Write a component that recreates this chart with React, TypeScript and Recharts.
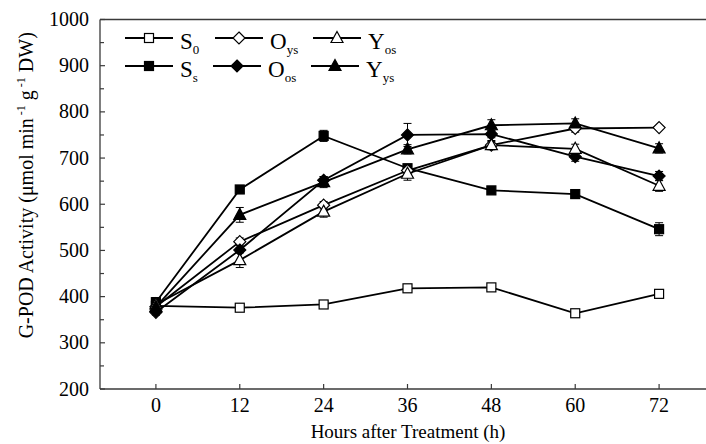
import React from 'react';
import { LineChart, Line, XAxis, YAxis, ErrorBar, ReferenceLine } from 'recharts';

// hours after treatment
const hours = [0, 12, 24, 36, 48, 60, 72];

// G-POD activity per treatment
const s0 = [380, 376, 383, 418, 420, 364, 406];
const s0Err = [8, 5, 4, 4, 4, 4, 6];
const ss = [388, 632, 748, 678, 630, 622, 546];
const ssErr = [10, 6, 12, 8, 5, 5, 14];
const oys = [378, 519, 598, 673, 728, 764, 766];
const oysErr = [6, 8, 8, 10, 8, 8, 4];
const oos = [366, 501, 652, 750, 752, 703, 661];
const oosErr = [6, 6, 8, 25, 8, 10, 10];
const yos = [383, 479, 584, 666, 728, 720, 640];
const yosErr = [8, 16, 12, 14, 10, 10, 12];
const yys = [378, 577, 648, 719, 771, 775, 721];
const yysErr = [8, 16, 12, 10, 12, 10, 10];

const xTicks = [0, 12, 24, 36, 48, 60, 72];
const yTicks = [200, 250, 300, 350, 400, 450, 500, 550, 600, 650, 700, 750, 800, 850, 900, 950, 1000];
const yLabels = [200, 300, 400, 500, 600, 700, 800, 900, 1000];

const FONT = '"Liberation Serif", "Times New Roman", serif';
const INK = '#000';
const AXIS = '#3a3a3a';

type Shape = 'square' | 'diamond' | 'triangle';

const series = [
  { key: 's0', name: 'S', sub: '0', shape: 'square' as Shape, filled: false, values: s0, errs: s0Err },
  { key: 'ss', name: 'S', sub: 's', shape: 'square' as Shape, filled: true, values: ss, errs: ssErr },
  { key: 'oys', name: 'O', sub: 'ys', shape: 'diamond' as Shape, filled: false, values: oys, errs: oysErr },
  { key: 'oos', name: 'O', sub: 'os', shape: 'diamond' as Shape, filled: true, values: oos, errs: oosErr },
  { key: 'yos', name: 'Y', sub: 'os', shape: 'triangle' as Shape, filled: false, values: yos, errs: yosErr },
  { key: 'yys', name: 'Y', sub: 'ys', shape: 'triangle' as Shape, filled: true, values: yys, errs: yysErr },
];

const rows = hours.map((h, i) => {
  const row: Record<string, number> = { h };
  series.forEach(s => {
    row[s.key] = s.values[i];
    row[s.key + 'Err'] = s.errs[i];
  });
  return row;
});

function Marker({ cx, cy, shape, filled }: { cx: number; cy: number; shape: Shape; filled: boolean }) {
  const fill = filled ? INK : '#fff';
  if (shape === 'square') {
    return <rect x={cx - 4.5} y={cy - 4.5} width={9} height={9} fill={fill} stroke={INK} strokeWidth={1.2} />;
  }
  if (shape === 'diamond') {
    const r = 6;
    return (
      <polygon
        points={`${cx},${cy - r} ${cx + r},${cy} ${cx},${cy + r} ${cx - r},${cy}`}
        fill={fill}
        stroke={INK}
        strokeWidth={1.2}
      />
    );
  }
  return (
    <polygon
      points={`${cx},${cy - 6.5} ${cx + 6},${cy + 4.5} ${cx - 6},${cy + 4.5}`}
      fill={fill}
      stroke={INK}
      strokeWidth={1.2}
    />
  );
}

const XTick = (props: any) => {
  const { x, y, payload } = props;
  return (
    <g>
      <line x1={x} y1={y} x2={x} y2={y - 5} stroke={AXIS} strokeWidth={1.2} />
      <text x={x} y={y + 23} textAnchor="middle" fontSize={20} fontFamily={FONT} fill={INK}>
        {payload.value}
      </text>
    </g>
  );
};

const YTick = (props: any) => {
  const { x, y, payload } = props;
  const major = yLabels.includes(payload.value);
  return (
    <g>
      <line x1={x} y1={y} x2={x + (major ? 5 : 4)} y2={y} stroke={AXIS} strokeWidth={1.2} />
      {major && (
        <text x={x - 11} y={y + 6.5} textAnchor="end" fontSize={20} fontFamily={FONT} fill={INK}>
          {payload.value}
        </text>
      )}
    </g>
  );
};

const XTitle = (props: any) => {
  const { viewBox } = props;
  return (
    <text
      x={viewBox.x + 308}
      y={viewBox.y + 49}
      textAnchor="middle"
      fontSize={19}
      fontFamily={FONT}
      fill={INK}
    >
      Hours after Treatment (h)
    </text>
  );
};

const YTitle = (props: any) => {
  const { viewBox } = props;
  const cx = viewBox.x + viewBox.width - 67;
  const cy = viewBox.y + viewBox.height / 2 - 19;
  return (
    <text
      x={cx}
      y={cy}
      transform={`rotate(-90, ${cx}, ${cy})`}
      textAnchor="middle"
      fontSize={20}
      fontFamily={FONT}
      fill={INK}
    >
      G-POD Activity (μmol min
      <tspan dy={-8} fontSize={12}> -1</tspan>
      <tspan dy={8}> g</tspan>
      <tspan dy={-8} fontSize={12}> -1</tspan>
      <tspan dy={8}> DW)</tspan>
    </text>
  );
};

const legendRows = [
  { y: 38, items: [{ k: 's0', x: 125 }, { k: 'oys', x: 215 }, { k: 'yos', x: 313 }] },
  { y: 66, items: [{ k: 'ss', x: 125 }, { k: 'oos', x: 213 }, { k: 'yys', x: 311 }] },
];

function LegendOverlay() {
  return (
    <svg width={706} height={100} style={{ position: 'absolute', left: 0, top: 0, pointerEvents: 'none' }}>
      {legendRows.map((row, ri) =>
        row.items.map(item => {
          const s = series.find(d => d.key === item.k)!;
          return (
            <g key={ri + item.k}>
              <line x1={item.x} y1={row.y} x2={item.x + 48} y2={row.y} stroke={INK} strokeWidth={1.8} />
              <Marker cx={item.x + 24} cy={row.y} shape={s.shape} filled={s.filled} />
              <text x={item.x + 55} y={row.y + 11} fontSize={23} fontFamily={FONT} fill={INK}>
                {s.name}
                <tspan dy={5} fontSize={13}>{s.sub}</tspan>
              </text>
            </g>
          );
        })
      )}
    </svg>
  );
}

export default function App() {
  return (
    <div style={{ position: 'absolute', left: 0, top: 0, width: 706, height: 444, overflow: 'hidden', background: '#fff' }}>
      <LineChart width={720} height={444} data={rows} margin={{ top: 19.5, right: 5, left: 99, bottom: 54 }}>
        <XAxis
          dataKey="h"
          type="number"
          domain={[-8, 80]}
          ticks={xTicks}
          interval={0}
          height={1}
          tickSize={0}
          tickMargin={0}
          tickLine={false}
          tick={<XTick />}
          axisLine={{ stroke: AXIS, strokeWidth: 1.3 }}
          allowDataOverflow
          label={{ content: <XTitle /> }}
        />
        <YAxis
          type="number"
          domain={[200, 1000]}
          ticks={yTicks}
          interval={0}
          width={1}
          tickSize={0}
          tickMargin={0}
          tickLine={false}
          tick={<YTick />}
          axisLine={{ stroke: AXIS, strokeWidth: 1.3 }}
          allowDataOverflow
          label={{ content: <YTitle /> }}
        />
        <ReferenceLine y={1000} stroke={AXIS} strokeWidth={1.6} />
        {series.map(s => (
          <Line
            key={s.key}
            dataKey={s.key}
            type="linear"
            stroke={INK}
            strokeWidth={1.8}
            isAnimationActive={false}
            dot={(p: any) => <Marker key={s.key + p.index} cx={p.cx} cy={p.cy} shape={s.shape} filled={s.filled} />}
            activeDot={false}
          >
            <ErrorBar dataKey={s.key + 'Err'} direction="y" width={4} stroke={INK} strokeWidth={1} />
          </Line>
        ))}
      </LineChart>
      <LegendOverlay />
    </div>
  );
}
